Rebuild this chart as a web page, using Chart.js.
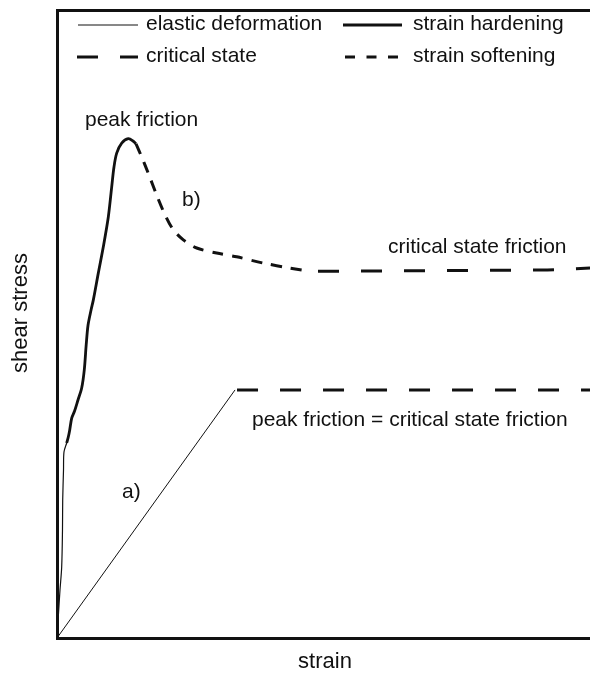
<!DOCTYPE html>
<html>
<head>
<meta charset="utf-8">
<script src="https://cdn.jsdelivr.net/npm/chart.js@4"></script>
<style>
  html, body { margin: 0; padding: 0; background: #fff; }
  canvas { display: block; }
</style>
</head>
<body>
<canvas id="c" width="590" height="673"></canvas>
<script>
// ---- data (strain 0..100, shear stress 0..100, arbitrary units) ----
const elasticA_x = [0, 33.4];
const elasticA_y = [0, 39.5];
const criticalA_x = [33.4, 100];
const criticalA_y = [39.5, 39.5];

const elasticB_x = [0, 0.24, 0.56, 0.88, 1.03, 1.07, 1.22, 1.31, 1.82];
const elasticB_y = [0, 3.34, 7.64, 11.31, 17.2, 21.97, 26.75, 29.62, 31.05];

const hardeningB_x = [1.82, 2.12, 2.38, 2.76, 3.28, 3.94, 4.63, 5.12, 5.48, 5.82, 6.38, 6.81, 7.75, 8.69, 9.62, 10.26, 10.69, 11.2, 12.14, 13.38, 14.32, 14.82];
const hardeningB_y = [31.05, 32.0, 33.1, 35.0, 36.1, 37.9, 39.8, 42.7, 46.7, 49.8, 52.2, 53.8, 58.1, 62.3, 67.0, 71.8, 75.0, 77.2, 78.8, 79.5, 79.1, 78.7];

const softeningB_x = [14.82, 15.89, 17.13, 18.71, 20.26, 21.82, 23.70, 26.21, 29.96, 33.71, 38.71, 43.71, 47.47];
const softeningB_y = [78.7, 76.6, 74.0, 70.5, 67.4, 65.0, 63.4, 62.1, 61.3, 60.7, 59.7, 58.9, 58.4];

const criticalB_x = [48.97, 92, 100];
const criticalB_y = [58.4, 58.6, 58.9];

const legendLabels = ['elastic deformation', 'strain hardening', 'critical state', 'strain softening'];
const annotations = [
  { text: 'peak friction', x: 85, y: 120 },
  { text: 'b)', x: 182, y: 200 },
  { text: 'critical state friction', x: 388, y: 247 },
  { text: 'peak friction = critical state friction', x: 252, y: 420 },
  { text: 'a)', x: 122, y: 492 }
];
const xTitle = 'strain';
const yTitle = 'shear stress';

const INK = '#111111';
const FONT = '"Liberation Sans", Arial, sans-serif';

function pts(xs, ys) { return xs.map((x, i) => ({ x: x, y: ys[i] })); }

const DASH_CRIT = [21, 22];
const DASH_SOFT = [11, 9];

const textPlugin = {
  id: 'texts',
  afterDraw(chart) {
    const ctx = chart.ctx;
    ctx.save();
    ctx.fillStyle = INK;
    ctx.strokeStyle = INK;
    ctx.textBaseline = 'middle';
    ctx.textAlign = 'left';
    ctx.font = '21px ' + FONT;
    // legend
    const r1 = 24, r2 = 56;
    const samples = [
      { x0: 78, x1: 138, y: r1, w: 1, dash: [] , tx: 146, label: legendLabels[0] },
      { x0: 343, x1: 402, y: r1, w: 3, dash: [], tx: 413, label: legendLabels[1] },
      { x0: 77, x1: 138, y: r2, w: 3, dash: DASH_CRIT, tx: 146, label: legendLabels[2] },
      { x0: 345, x1: 400, y: r2, w: 3, dash: [10, 11.5], tx: 413, label: legendLabels[3] }
    ];
    samples.forEach(s => {
      ctx.beginPath();
      ctx.lineWidth = s.w;
      ctx.setLineDash(s.dash);
      ctx.moveTo(s.x0, s.y + 1);
      ctx.lineTo(s.x1, s.y + 1);
      ctx.stroke();
      ctx.setLineDash([]);
      ctx.fillText(s.label, s.tx, s.y);
    });
    // annotations
    annotations.forEach(a => ctx.fillText(a.text, a.x, a.y));
    // axis titles
    ctx.font = '22px ' + FONT;
    ctx.textAlign = 'center';
    ctx.fillText(xTitle, 325, 662);
    ctx.translate(21, 313);
    ctx.rotate(-Math.PI / 2);
    ctx.fillText(yTitle, 0, 0);
    ctx.restore();
  }
};

new Chart(document.getElementById('c'), {
  type: 'line',
  data: {
    datasets: [
      { label: 'elastic deformation a', data: pts(elasticA_x, elasticA_y), borderColor: INK, borderWidth: 1, tension: 0 },
      { label: 'critical state a', data: pts(criticalA_x, criticalA_y), borderColor: INK, borderWidth: 3, borderDash: DASH_CRIT, borderDashOffset: -2, tension: 0 },
      { label: 'elastic deformation b', data: pts(elasticB_x, elasticB_y), borderColor: INK, borderWidth: 1.2, tension: 0.3 },
      { label: 'strain hardening b', data: pts(hardeningB_x, hardeningB_y), borderColor: INK, borderWidth: 2.8, tension: 0.3 },
      { label: 'strain softening b', data: pts(softeningB_x, softeningB_y), borderColor: INK, borderWidth: 3, borderDash: DASH_SOFT, tension: 0.3 },
      { label: 'critical state b', data: pts(criticalB_x, criticalB_y), borderColor: INK, borderWidth: 3, borderDash: DASH_CRIT, tension: 0 }
    ]
  },
  options: {
    responsive: false,
    animation: false,
    parsing: true,
    layout: { padding: { left: 57, top: 10, right: 0, bottom: 35 } },
    elements: { point: { radius: 0, hoverRadius: 0 }, line: { capBezierPoints: true, borderCapStyle: 'butt' } },
    plugins: { legend: { display: false }, tooltip: { enabled: false } },
    events: [],
    scales: {
      x: {
        type: 'linear', position: 'bottom', min: 0, max: 100,
        ticks: { display: false },
        grid: { display: false, drawTicks: false },
        border: { display: true, color: INK, width: 3 }
      },
      xTop: {
        type: 'linear', position: 'top', min: 0, max: 100,
        ticks: { display: false },
        grid: { display: false, drawTicks: false },
        border: { display: true, color: INK, width: 3 }
      },
      y: {
        type: 'linear', position: 'left', min: 0, max: 100,
        ticks: { display: false },
        grid: { display: false, drawTicks: false },
        border: { display: true, color: INK, width: 3 }
      }
    }
  },
  plugins: [textPlugin]
});
</script>
</body>
</html>
